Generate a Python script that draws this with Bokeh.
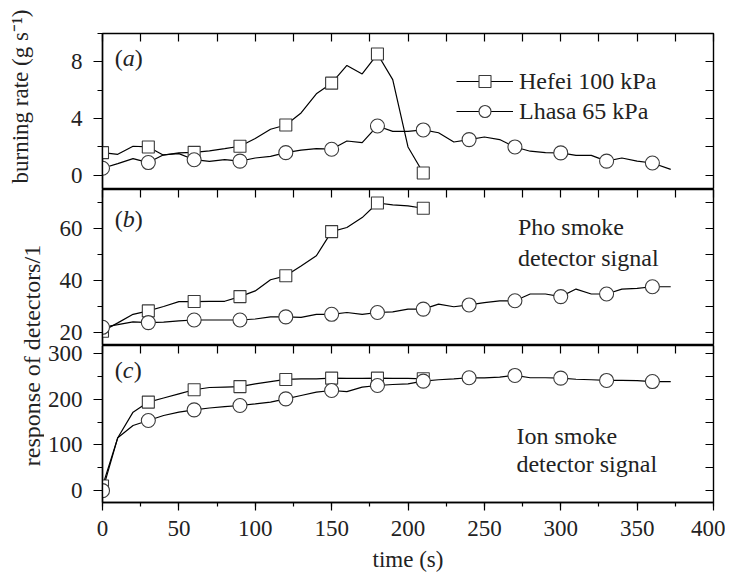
from math import pi
from bokeh.plotting import figure
from bokeh.models import (Range1d, LinearAxis, SingleIntervalTicker, Legend,
                          LegendItem, Label)
from bokeh.layouts import column, row
from bokeh.embed import file_html
from bokeh.resources import INLINE

FONT = "Liberation Serif"

# ---------------- data ----------------
time_hefei = [0, 10, 20, 30, 40, 50, 60, 70, 80, 90, 100, 110, 120, 130, 140,
              150, 160, 170, 180, 190, 200, 210]
time_lhasa = [0, 10, 20, 30, 40, 50, 60, 70, 80, 90, 100, 110, 120, 130, 140,
              150, 160, 170, 180, 190, 200, 210, 220, 230, 240, 250, 260, 270,
              280, 290, 300, 310, 320, 330, 340, 350, 360, 372]

burn_hefei = [1.6, 1.48, 2.05, 2.0, 1.42, 1.58, 1.62, 1.72, 1.88, 2.05, 2.6,
              3.25, 3.55, 4.4, 5.75, 6.5, 7.75, 7.15, 8.55, 6.75, 2.0, 0.16]
burn_lhasa = [0.5, 0.82, 1.18, 0.9, 1.45, 1.53, 1.1, 0.99, 1.1, 1.0, 1.22,
              1.34, 1.6, 1.77, 1.88, 1.84, 2.42, 2.31, 3.48, 3.1, 3.1, 3.2,
              3.0, 2.35, 2.52, 2.7, 2.52, 2.0, 1.7, 1.6, 1.58, 1.41, 1.41,
              1.0, 1.22, 1.0, 0.87, 0.42]

pho_hefei = [20.5, 23.7, 27, 28.3, 30, 31.9, 31.9, 32, 32, 33.8, 36, 40.3,
             41.8, 45.6, 49.5, 58.8, 60.4, 64.2, 69.8, 69.1, 68.7, 67.8]
pho_lhasa = [22, 23, 24.1, 23.8, 24, 24.5, 24.8, 24.8, 24.8, 24.8, 25.2, 26,
             26, 25.8, 27, 27, 27.7, 27, 27.7, 27.9, 29, 29, 30.9, 29.9, 30.6,
             31.5, 32.2, 32.2, 34.8, 34.8, 33.8, 36.7, 34.8, 34.8, 36.7, 37,
             37.6, 37.6]

ion_hefei = [10, 116, 172, 194, 203, 212, 221, 226, 227, 228, 234, 239, 243.6,
             245, 245, 246.5, 246, 246, 246.5, 246, 246, 245]
ion_lhasa = [0, 116, 142.6, 153.6, 164.6, 172, 177, 181, 184, 186.5, 190, 194,
             201, 208.5, 215.7, 219.4, 217, 226.7, 230.4, 232.5, 234, 240, 243,
             245, 247.3, 247, 248.8, 252.4, 247.3, 247.3, 246.5, 244, 243,
             241.4, 241.4, 241, 239, 239]

series_names = ["Hefei 100 kPa", "Lhasa 65 kPa"]
panel_tags = ["a", "b", "c"]
x_label = "time (s)"
y_label_top = "burning rate (g s\u207b\u00b9)"
y_label_bottom = "response of detectors/1"

MARK_EVERY = 3  # a marker on every third sample (every 30 s)

# ---------------- layout constants ----------------
FW = 611
LEFT = 55
RIGHT = 12
LABEL_W = 44
TOP_A = 33
BOTTOM_C = 45
XLAB_H = 25
FH = [156, 156, 157]
TOTAL_H = TOP_A + sum(FH) + BOTTOM_C + XLAB_H

xr = Range1d(0, 400)
TXT = "#222222"


def style_left(ax, interval):
    ax.ticker = SingleIntervalTicker(interval=interval, num_minor_ticks=2)
    ax.major_tick_out = 9
    ax.major_tick_in = 0
    ax.minor_tick_out = 5
    ax.minor_tick_in = 0
    ax.axis_line_color = "black"
    ax.axis_line_width = 1.4
    ax.major_tick_line_width = 1.2
    ax.minor_tick_line_width = 1.2
    ax.major_label_text_font = FONT
    ax.major_label_text_font_size = "23px"
    ax.major_label_text_color = TXT
    ax.major_label_standoff = 11


def inner_axis(interval):
    return LinearAxis(
        ticker=SingleIntervalTicker(interval=interval, num_minor_ticks=0),
        major_tick_in=8, major_tick_out=0, minor_tick_in=0, minor_tick_out=0,
        minor_tick_line_color=None,
        major_tick_line_width=1.2,
        major_label_text_font_size="0px", major_label_text_color=None,
        major_label_standoff=0,
        axis_line_color=None)


def make_panel(yr, interval, fh, top, bottom, show_x):
    p = figure(frame_width=FW, frame_height=fh, x_range=xr,
               y_range=Range1d(*yr), output_backend="svg",
               toolbar_location=None,
               x_axis_location="below" if show_x else None,
               y_axis_location="left",
               min_border_left=LEFT, min_border_right=RIGHT,
               min_border_top=top, min_border_bottom=bottom)
    p.grid.visible = False
    p.outline_line_color = "black"
    p.outline_line_width = 1.4
    p.background_fill_color = "white"
    p.border_fill_color = "white"
    style_left(p.left[0], interval)
    p.add_layout(inner_axis(25), "above")
    p.add_layout(inner_axis(interval / 2), "right")
    return p


def draw_series(p, yh, yl):
    lh = p.line(time_hefei, yh, line_color="black", line_width=1.2)
    ll = p.line(time_lhasa, yl, line_color="black", line_width=1.2)
    sh = p.scatter(time_hefei[::MARK_EVERY], yh[::MARK_EVERY], marker="square",
                   size=12, fill_color="white", line_color="#3a3a3a",
                   line_width=1.1)
    sl = p.scatter(time_lhasa[::MARK_EVERY], yl[::MARK_EVERY], marker="circle",
                   size=14, fill_color="white", line_color="#3a3a3a",
                   line_width=1.1)
    return (lh, sh), (ll, sl)


def tag(p, letter, x, y, close_off):
    common = dict(x=x, y=y, text_font=FONT, text_font_size="24px",
                  text_baseline="middle", text_align="left", text_color=TXT)
    p.add_layout(Label(text="(", **common))
    p.add_layout(Label(text=letter, x_offset=8, text_font_style="italic",
                       **common))
    p.add_layout(Label(text=")", x_offset=close_off, **common))


def note(p, x, y, txt, size="24px"):
    p.add_layout(Label(x=x, y=y, text=txt, text_font=FONT,
                       text_font_size=size, text_baseline="middle",
                       text_align="left", text_color=TXT))


def blank_fig(w, h):
    f = figure(width=w, height=h, x_range=Range1d(0, w),
               y_range=Range1d(h, 0), output_backend="svg",
               toolbar_location=None, x_axis_location=None,
               y_axis_location=None, min_border=0, min_border_left=0,
               min_border_right=0, min_border_top=0, min_border_bottom=0)
    f.outline_line_color = None
    f.grid.visible = False
    return f


# ---------------- panel (a) ----------------
pa = make_panel((-1, 10), 4, FH[0], TOP_A, 0, False)
(ha, hsa), (la, lsa) = draw_series(pa, burn_hefei, burn_lhasa)
tag(pa, panel_tags[0], 8, 8.25, 20)
legend = Legend(items=[LegendItem(label=series_names[0], renderers=[ha, hsa]),
                       LegendItem(label=series_names[1], renderers=[la, lsa])],
                location=(354, 63), glyph_width=57, glyph_height=30,
                label_height=30, spacing=0, padding=0, margin=0,
                label_standoff=6, label_text_font=FONT,
                label_text_font_size="24px", label_text_color=TXT,
                border_line_color=None, background_fill_alpha=0)
pa.add_layout(legend)

# ---------------- panel (b) ----------------
pb = make_panel((15, 75), 20, FH[1], 0, 0, False)
draw_series(pb, pho_hefei, pho_lhasa)
tag(pb, panel_tags[1], 8, 63.7, 20)
note(pb, 272, 60.4, "Pho smoke")
note(pb, 272, 48.7, "detector signal")

# ---------------- panel (c) ----------------
pc = make_panel((-26, 318), 100, FH[2], 0, BOTTOM_C, True)
draw_series(pc, ion_hefei, ion_lhasa)
tag(pc, panel_tags[2], 8, 263.3, 19)
note(pc, 271, 120.7, "Ion smoke")
note(pc, 271, 59.0, "detector signal")
xa = pc.below[0]
xa.ticker = SingleIntervalTicker(interval=50, num_minor_ticks=2)
xa.major_tick_out = 8
xa.major_tick_in = 0
xa.minor_tick_out = 4
xa.minor_tick_in = 0
xa.axis_line_color = "black"
xa.axis_line_width = 1.4
xa.major_tick_line_width = 1.2
xa.minor_tick_line_width = 1.2
xa.major_label_text_font = FONT
xa.major_label_text_font_size = "23px"
xa.major_label_text_color = TXT
xa.major_label_standoff = 10

# ---------------- x-axis title strip (shares the time axis) ----------------
xf = figure(frame_width=FW, frame_height=XLAB_H, x_range=xr,
            y_range=Range1d(XLAB_H, 0), output_backend="svg",
            toolbar_location=None, x_axis_location=None,
            y_axis_location=None, min_border_left=LEFT,
            min_border_right=RIGHT, min_border_top=0, min_border_bottom=0)
xf.outline_line_color = None
xf.grid.visible = False
xf.add_layout(Label(x=200, y=12, text=x_label, text_font=FONT,
                    text_font_size="23px", text_baseline="middle",
                    text_align="center", text_color=TXT))

# ---------------- y-axis titles ----------------
lf = blank_fig(LABEL_W, TOTAL_H)
lf.add_layout(Label(x=20, y=96, text=y_label_top, angle=pi / 2,
                    text_align="center", text_baseline="middle",
                    text_font=FONT, text_font_size="23px", text_color=TXT))
lf.add_layout(Label(x=31, y=355, text=y_label_bottom, angle=pi / 2,
                    text_align="center", text_baseline="middle",
                    text_font=FONT, text_font_size="24px", text_color=TXT))

layout = row(lf, column(pa, pb, pc, xf, spacing=0), spacing=0)

open("out.html", "w").write(file_html(layout, INLINE))
